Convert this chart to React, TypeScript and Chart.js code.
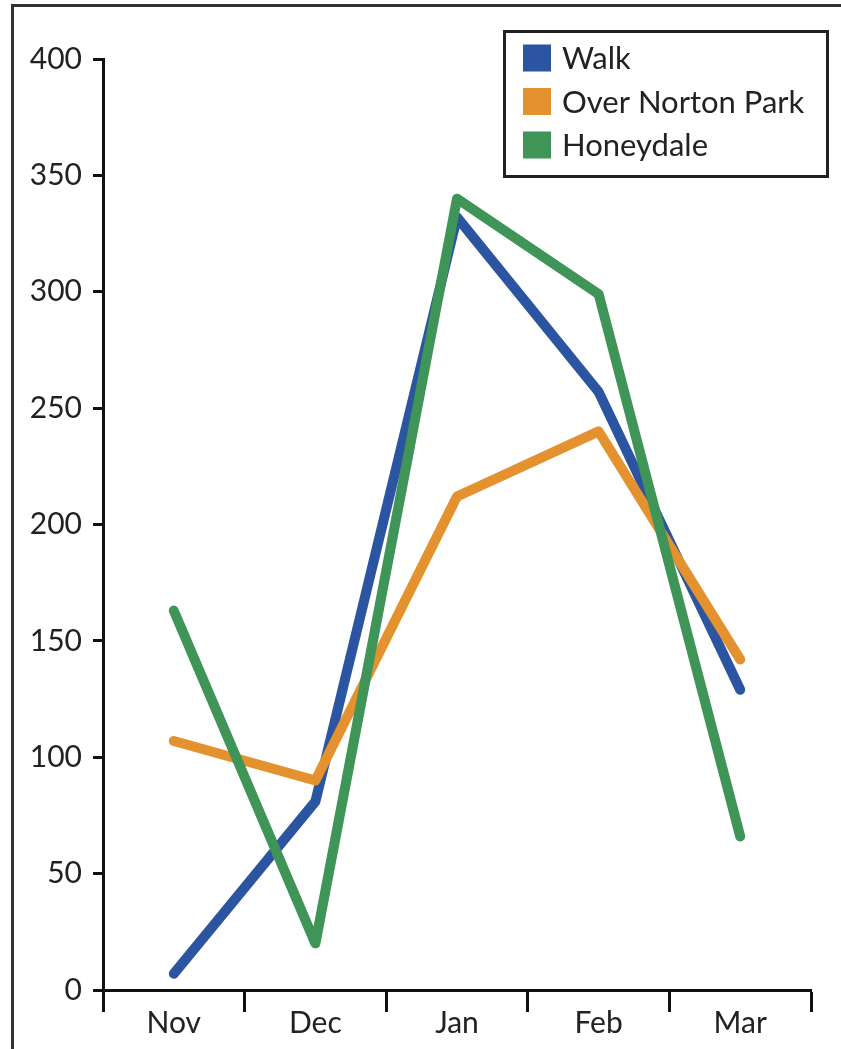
import React, { useEffect, useRef } from "react";
import { Chart, registerables } from "chart.js";

Chart.register(...registerables);

const months = ["Nov", "Dec", "Jan", "Feb", "Mar"];
const walk = [7, 81, 332, 257, 129];
const overNortonPark = [107, 90, 212, 240, 142];
const honeydale = [163, 20, 340, 299, 66];
const yTicks = [0, 50, 100, 150, 200, 250, 300, 350, 400];

const seriesNames = ["Walk", "Over Norton Park", "Honeydale"];
const seriesColors = ["#2b55a1", "#e4922f", "#3f9457"];

const FONT = "Lato, 'Open Sans', sans-serif";
const INK = "#222";

// Outer frame around the whole figure
const framePlugin = {
  id: "outerFrame",
  beforeDraw(chart: any) {
    const ctx = chart.ctx;
    ctx.save();
    ctx.strokeStyle = "#333";
    ctx.lineWidth = 3;
    ctx.beginPath();
    ctx.moveTo(12.5, chart.height + 5);
    ctx.lineTo(12.5, 5.5);
    ctx.lineTo(chart.width + 5, 5.5);
    ctx.stroke();
    ctx.restore();
  },
};

// Boxed legend in the top-right corner
const boxLegendPlugin = {
  id: "boxLegend",
  afterDraw(chart: any) {
    const ctx = chart.ctx;
    const x0 = 503, y0 = 30, w = 326, h = 148;
    ctx.save();
    ctx.fillStyle = "#fff";
    ctx.fillRect(x0, y0, w, h);
    ctx.strokeStyle = INK;
    ctx.lineWidth = 3;
    ctx.strokeRect(x0 + 1.5, y0 + 1.5, w - 3, h - 3);
    ctx.font = `31px ${FONT}`;
    ctx.textBaseline = "middle";
    ctx.textAlign = "left";
    chart.data.datasets.forEach((ds: any, i: number) => {
      const cy = 58 + i * 43.5;
      ctx.fillStyle = ds.borderColor;
      ctx.fillRect(523, cy - 13.5, 28, 27);
      ctx.fillStyle = INK;
      ctx.fillText(ds.label, 562, cy + 1);
    });
    ctx.restore();
  },
};

export default function App() {
  const ref = useRef<HTMLCanvasElement>(null);

  useEffect(() => {
    document.body.style.margin = "0";
    const canvas = ref.current!;
    const seriesData = [walk, overNortonPark, honeydale];
    const chart = new Chart(canvas, {
      type: "line",
      data: {
        labels: months,
        datasets: seriesNames.map((name, i) => ({
          label: name,
          data: seriesData[i],
          borderColor: seriesColors[i],
          backgroundColor: seriesColors[i],
          borderWidth: 10,
          borderCapStyle: "round",
          borderJoinStyle: "round",
          pointRadius: 0,
          tension: 0,
          order: 3 - i,
        })),
      },
      options: {
        responsive: false,
        animation: false,
        layout: { padding: { top: 59, right: 30, left: 0, bottom: 0 } },
        plugins: {
          legend: { display: false },
          tooltip: { enabled: false },
        },
        scales: {
          x: {
            type: "category",
            offset: true,
            afterFit: (s: any) => {
              s.height = 59;
            },
            grid: {
              offset: true,
              drawOnChartArea: false,
              drawTicks: true,
              tickLength: 22,
              tickWidth: 3,
              tickColor: "#111",
            },
            border: { display: true, color: "#111", width: 3 },
            ticks: {
              color: INK,
              font: { family: FONT, size: 30 },
              padding: -7,
              maxRotation: 0,
            },
          },
          y: {
            min: 0,
            max: 400,
            afterFit: (s: any) => {
              s.width = 103;
            },
            afterBuildTicks: (s: any) => {
              s.ticks = yTicks.map((v) => ({ value: v }));
            },
            grid: {
              drawOnChartArea: false,
              drawTicks: true,
              tickLength: 10,
              tickWidth: 3,
              tickColor: "#111",
            },
            border: { display: true, color: "#111", width: 3 },
            ticks: {
              color: INK,
              font: { family: FONT, size: 30 },
              padding: 11,
            },
          },
        },
      },
      plugins: [framePlugin, boxLegendPlugin],
    } as any);
    return () => chart.destroy();
  }, []);

  return (
    <div style={{ width: 841, height: 1049, background: "#fff" }}>
      <canvas ref={ref} width={841} height={1049} style={{ display: "block" }} />
    </div>
  );
}
